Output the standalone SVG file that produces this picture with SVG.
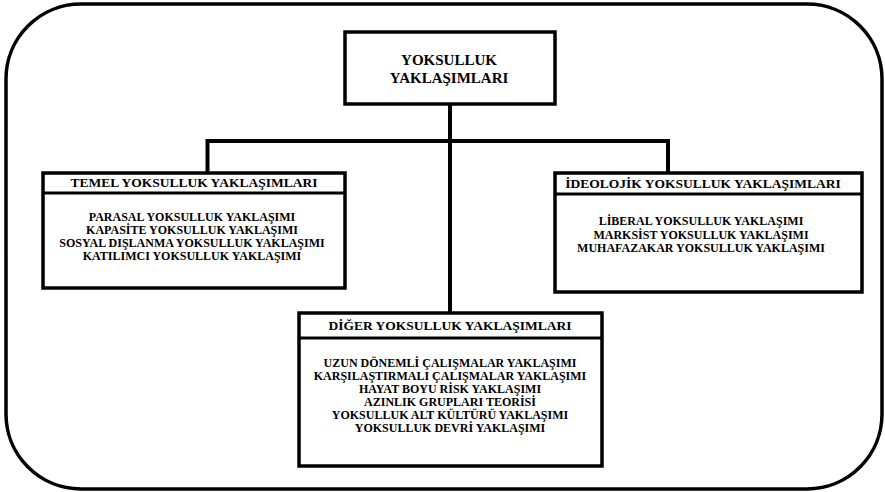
<svg xmlns="http://www.w3.org/2000/svg" width="885" height="492" viewBox="0 0 885 492">
<style>
text{font-family:"Liberation Serif","Times New Roman",serif;font-weight:bold;fill:#000;text-anchor:middle}
.t{font-size:15px}
.h{font-size:13.5px}
.b{font-size:12px}
.box{fill:#fff;stroke:#000;stroke-width:3.5}
.div{stroke:#000;stroke-width:3}
.con{fill:none;stroke:#000;stroke-width:4}
</style>
<rect x="6" y="4" width="876" height="485" rx="75" ry="75" fill="#fff" stroke="#000" stroke-width="3.5"/>
<g id="connectors">
<path class="con" d="M450 104V313"/>
<path class="con" d="M207.5 173V141H668V173"/>
</g>
<g id="root">
<rect class="box" x="345" y="32" width="210" height="72"/>
<text class="t" x="449" y="65">YOKSULLUK</text>
<text class="t" x="449" y="82.5">YAKLAŞIMLARI</text>
</g>
<g id="temel">
<rect class="box" x="43" y="173" width="302" height="115"/>
<line class="div" x1="43" y1="193" x2="345" y2="193"/>
<text class="h" x="194" y="187">TEMEL YOKSULLUK YAKLAŞIMLARI</text>
<text class="b" x="192" y="221">PARASAL YOKSULLUK YAKLAŞIMI</text>
<text class="b" x="192" y="234">KAPASİTE YOKSULLUK YAKLAŞIMI</text>
<text class="b" x="192" y="247">SOSYAL DIŞLANMA YOKSULLUK YAKLAŞIMI</text>
<text class="b" x="192" y="260">KATILIMCI YOKSULLUK YAKLAŞIMI</text>
</g>
<g id="ideolojik">
<rect class="box" x="555" y="173" width="307" height="119"/>
<line class="div" x1="555" y1="194" x2="862" y2="194"/>
<text class="h" x="703" y="188">İDEOLOJİK YOKSULLUK YAKLAŞIMLARI</text>
<text class="b" x="701" y="225">LİBERAL YOKSULLUK YAKLAŞIMI</text>
<text class="b" x="701" y="238.5">MARKSİST YOKSULLUK YAKLAŞIMI</text>
<text class="b" x="701" y="252">MUHAFAZAKAR YOKSULLUK YAKLAŞIMI</text>
</g>
<g id="diger">
<rect class="box" x="299" y="313" width="303" height="153"/>
<line class="div" x1="299" y1="338" x2="602" y2="338"/>
<text class="h" x="450" y="330">DİĞER YOKSULLUK YAKLAŞIMLARI</text>
<text class="b" x="450" y="366.5">UZUN DÖNEMLİ ÇALIŞMALAR YAKLAŞIMI</text>
<text class="b" x="450" y="379.5">KARŞILAŞTIRMALI ÇALIŞMALAR YAKLAŞIMI</text>
<text class="b" x="450" y="392.5">HAYAT BOYU RİSK  YAKLAŞIMI</text>
<text class="b" x="450" y="405.7">AZINLIK GRUPLARI TEORİSİ</text>
<text class="b" x="450" y="419">YOKSULLUK ALT KÜLTÜRÜ YAKLAŞIMI</text>
<text class="b" x="450" y="432">YOKSULLUK DEVRİ YAKLAŞIMI</text>
</g>
</svg>
